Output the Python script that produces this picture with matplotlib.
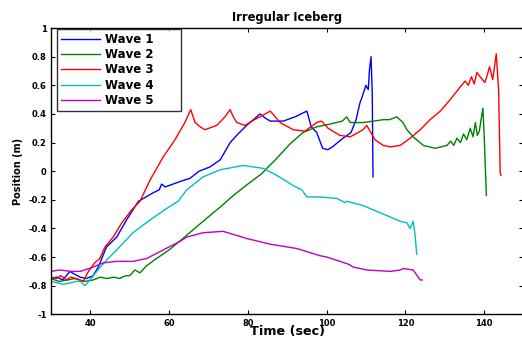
import matplotlib

matplotlib.use("Agg")
import matplotlib.pyplot as plt
import numpy as np

# Values
wave1_t = [30, 31.5, 33, 34.8, 36, 37.4, 39, 40.7, 42, 44.1, 46.7, 49.2, 52.2, 53.5, 56, 57.5, 58.1, 59, 61, 63, 65.3,
           67.6, 70.4, 73, 75.5, 77.5, 79.7, 81, 83.1, 84.5, 85.7, 89, 92, 95, 96.1, 97.5, 99, 100.3, 101.5, 103.7,
           106.2, 107.5, 108.5, 108.8, 110, 110.6, 110.9, 111.3, 111.6, 111.8]
wave1_y = [-0.75, -0.74, -0.76, -0.70, -0.72, -0.74, -0.75, -0.73, -0.67, -0.53, -0.46, -0.34, -0.21, -0.19, -0.15,
           -0.13, -0.09, -0.11, -0.09, -0.07, -0.05, 0.0, 0.03, 0.08, 0.2, 0.26, 0.32, 0.35, 0.40, 0.37, 0.35, 0.35,
           0.38, 0.42, 0.31, 0.27, 0.16, 0.15, 0.17, 0.22, 0.27, 0.36, 0.48, 0.50, 0.60, 0.57, 0.71, 0.80, 0.55, -0.04]

wave2_t = [30, 32, 34.2, 36, 38.5, 40.7, 42.5, 44.1, 46, 47.4, 49, 50, 51.3, 52.6, 54.3, 56.8, 60, 63.5, 66.5, 69.5,
           73, 76.3, 80, 83.4, 87, 90.7, 94, 97.5, 101, 104, 105.1, 106, 109.3, 112, 114.4, 116, 117.8, 119.4, 120.4,
           122, 124.6, 127.6, 130.6, 131.5, 132.3, 133.1, 134, 134.8, 135.6, 136.5, 137.2, 137.8, 138.3, 138.8,
           139.7, 140, 140.3, 140.6]
wave2_y = [-0.75, -0.77, -0.76, -0.75, -0.77, -0.76, -0.74, -0.75, -0.74, -0.75, -0.73, -0.73, -0.69, -0.71, -0.66,
           -0.61, -0.55, -0.47, -0.40, -0.33, -0.25, -0.17, -0.09, -0.02, 0.08, 0.19, 0.27, 0.31, 0.33, 0.35, 0.38,
           0.34, 0.34, 0.35, 0.36, 0.36, 0.38, 0.34, 0.29, 0.24, 0.18, 0.16, 0.18, 0.21, 0.18, 0.23, 0.20, 0.26,
           0.22, 0.30, 0.24, 0.34, 0.25, 0.28, 0.44, 0.27, 0.05, -0.17]

wave3_t = [30, 31.4, 32.5, 33.9, 35, 36.4, 38.2, 39.5, 41.1, 42.4, 43.7, 45.8, 48, 50.5, 52.6, 55.2, 58.5, 61.5, 64,
           65.5, 66.6, 67.9, 69.1, 72.1, 74.2, 75.5, 76.3, 77.2, 79.3, 81, 83.1, 85.7, 88.2, 91.5, 94.5, 97.5, 98.7,
           100.4, 103.4, 106, 109.3, 110.2, 112.3, 114.4, 116.2, 118.7, 121.2, 123.8, 126.3, 128.9, 131.4, 134,
           135.2, 136.0, 136.8, 137.5, 138.2, 139, 140.2, 140.7, 141.4, 142.2, 143.1, 143.7, 144.1, 144.3]
wave3_y = [-0.74, -0.75, -0.73, -0.76, -0.74, -0.75, -0.77, -0.70, -0.64, -0.61, -0.53, -0.46, -0.36, -0.27, -0.21,
           -0.06, 0.10, 0.22, 0.34, 0.43, 0.34, 0.31, 0.29, 0.32, 0.38, 0.43, 0.38, 0.34, 0.32, 0.35, 0.38, 0.42,
           0.34, 0.29, 0.28, 0.34, 0.35, 0.30, 0.25, 0.24, 0.29, 0.32, 0.22, 0.18, 0.17, 0.18, 0.23, 0.29, 0.36,
           0.42, 0.50, 0.59, 0.63, 0.60, 0.66, 0.61, 0.69, 0.66, 0.62, 0.66, 0.73, 0.64, 0.82, 0.57, -0.01, -0.03]

wave4_t = [30, 31.5, 33.1, 35, 36.4, 37.5, 38.6, 39.9, 42.5, 44.5, 46.7, 50.8, 55.2, 59.4, 62.3, 64.5, 68.6, 73,
           78.8, 83.9, 87.4, 91.5, 93.7, 95, 98.3, 102.6, 104.7, 105.1, 109.3, 112.7, 116.2, 118.7, 120.4, 121.2, 122,
           122.5, 122.9]
wave4_y = [-0.77, -0.78, -0.79, -0.78, -0.77, -0.77, -0.80, -0.76, -0.67, -0.61, -0.55, -0.43, -0.34, -0.26, -0.21,
           -0.13, -0.04, 0.01, 0.04, 0.02, -0.03, -0.10, -0.13, -0.18, -0.18, -0.19, -0.22, -0.21, -0.24, -0.28,
           -0.32, -0.35, -0.36, -0.40, -0.35, -0.45, -0.58]

wave5_t = [30, 32.3, 35, 37.4, 40.7, 43.3, 46.7, 50.8, 54.3, 58.5, 62.8, 64.5, 68.6, 73.7, 79.7, 85.7, 92.4, 98.3,
           100.1, 105.6, 106.8, 110.2, 116.2, 118.7, 119.5, 122, 123.8, 124.3]
wave5_y = [-0.70, -0.69, -0.70, -0.70, -0.67, -0.64, -0.63, -0.63, -0.61, -0.55, -0.49, -0.46, -0.43, -0.42, -0.47,
           -0.51, -0.54, -0.59, -0.60, -0.65, -0.67, -0.69, -0.70, -0.69, -0.68, -0.69, -0.76, -0.76]

labels = ["Wave 1", "Wave 2", "Wave 3", "Wave 4", "Wave 5"]
colors = ["#0000ff", "#008000", "#ff0000", "#00bfbf", "#bf00bf"]

plt.rcParams["font.family"] = "DejaVu Sans"
plt.rcParams["font.weight"] = "bold"

fig = plt.figure(figsize=(5.22, 3.38), dpi=100)
ax = fig.add_axes([0.0977, 0.070, 0.905, 0.847])

series = [(wave1_t, wave1_y), (wave2_t, wave2_y), (wave3_t, wave3_y), (wave4_t, wave4_y), (wave5_t, wave5_y)]
for (t, y), lab, c in zip(series, labels, colors):
    ax.plot(t, y, color=c, lw=1.0, label=lab)

ax.set_xlim(30, 150)
ax.set_ylim(-1, 1)
ax.set_xticks(np.arange(40, 141, 20))
ax.set_yticks(np.arange(-1, 1.01, 0.2))
ax.set_yticklabels(["-1", "-0.8", "-0.6", "-0.4", "-0.2", "0", "0.2", "0.4", "0.6", "0.8", "1"])
ax.tick_params(direction="in", length=3, width=0.8, labelsize=6, top=True, right=True, pad=3)
for s in ax.spines.values():
    s.set_linewidth(1.0)

ax.set_title("Irregular Iceberg", fontsize=8.3, fontweight="bold", pad=5)
ax.set_xlabel("Time (sec)", fontsize=9.2, fontweight="bold", labelpad=-1.5)
ax.set_ylabel("Position (m)", fontsize=7, fontweight="bold", labelpad=4)

# legend box stretched like the MATLAB one (extra room on the right)
leg = ax.legend(loc="upper left", bbox_to_anchor=(0.0127, 0.70, 0.262, 0.298), mode="expand",
                prop={"weight": "bold", "size": 8.5}, frameon=True, fancybox=False, borderaxespad=0,
                handlelength=3.3, labelspacing=0.2, borderpad=0.35, handletextpad=0.45)
leg.get_frame().set_edgecolor("black")
leg.get_frame().set_linewidth(1.0)

fig.savefig("out.png", dpi=100)
